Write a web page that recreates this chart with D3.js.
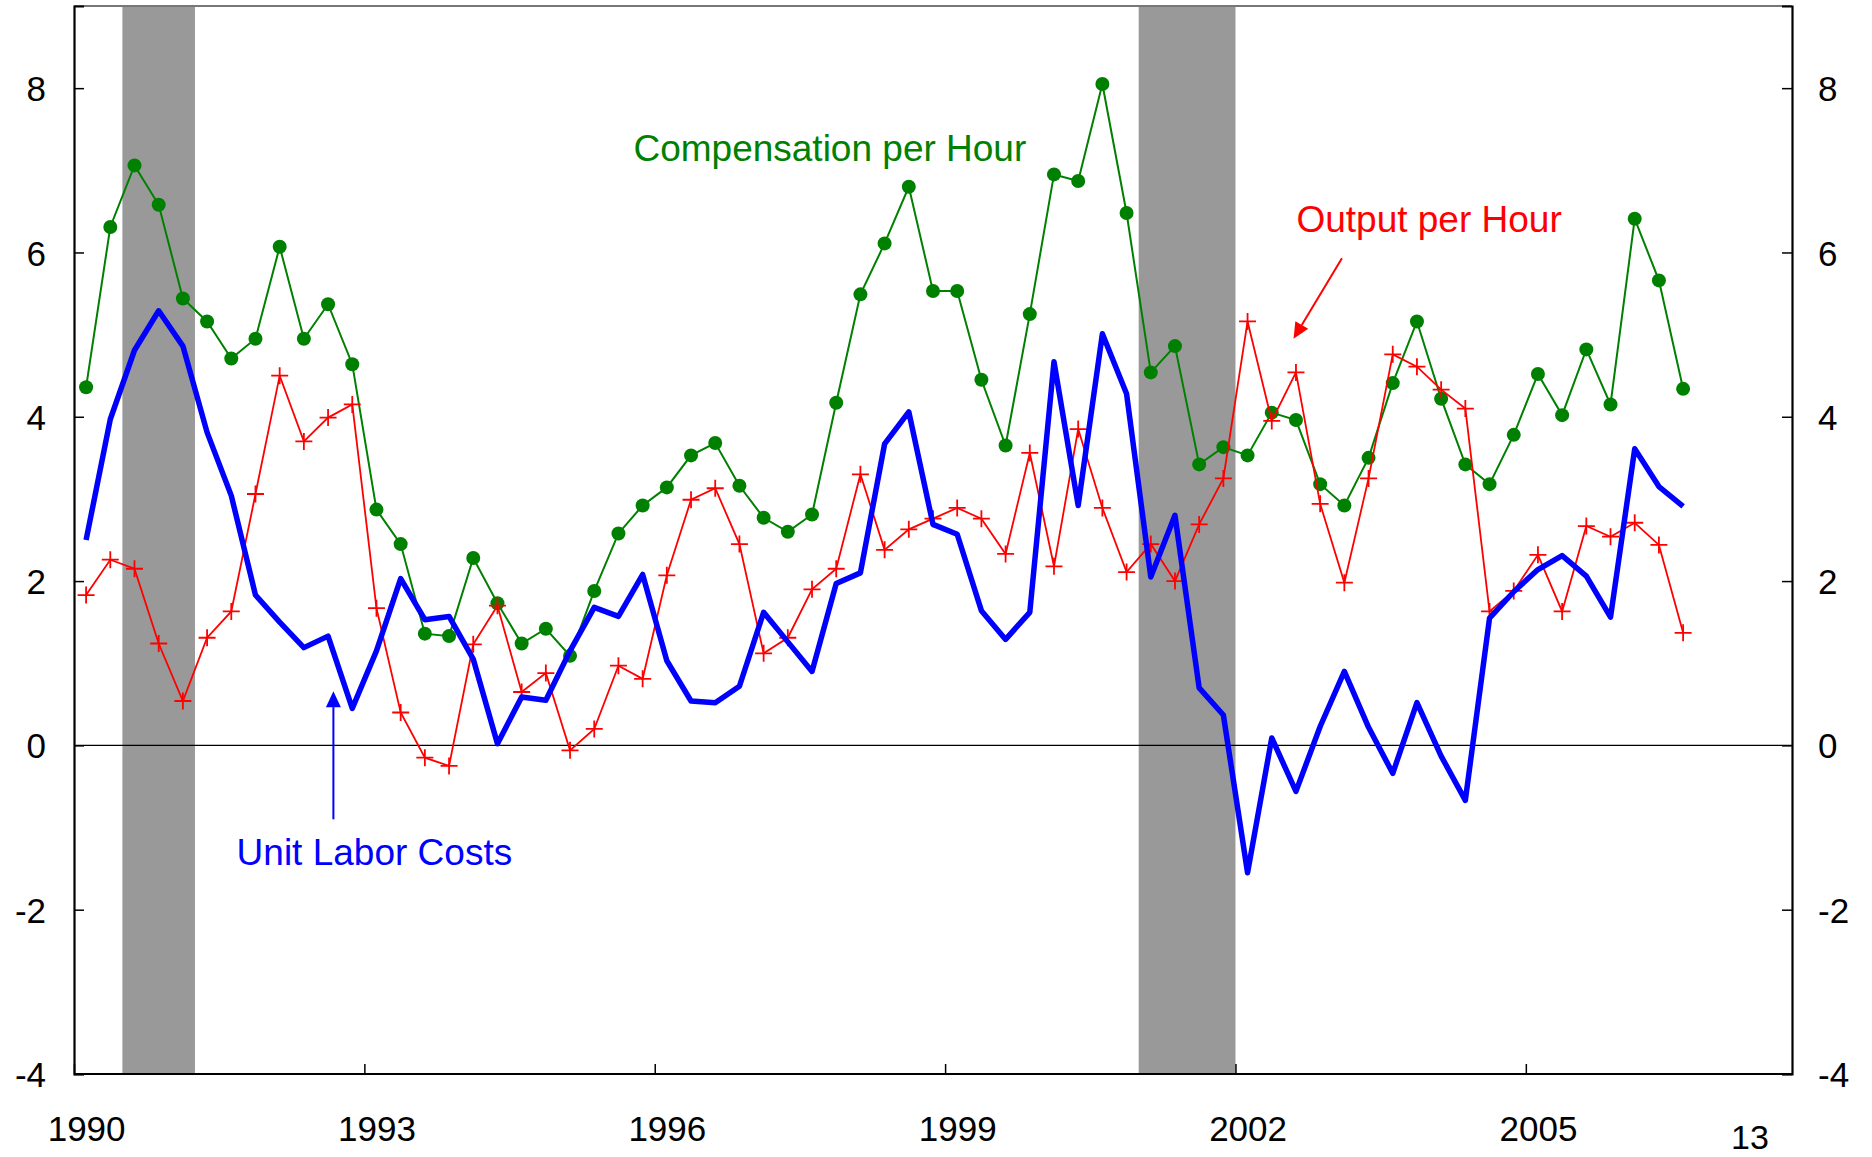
<!DOCTYPE html>
<html>
<head>
<meta charset="utf-8">
<script src="https://cdn.jsdelivr.net/npm/d3@7"></script>
<style>
  body { margin: 0; background: #fff; }
  svg { display: block; }
  text { font-family: Arial, "Liberation Sans", sans-serif; }
</style>
</head>
<body>
<svg id="svg" width="1872" height="1157"></svg>
<script>
// quarterly, 1990Q1 .. 2006Q3
var startYear = 1990;
var compensation = [4.36,6.31,7.06,6.58,5.44,5.16,4.71,4.95,6.07,4.95,
    5.37,4.64,2.87,2.45,1.36,1.33,2.28,1.73,1.24,1.42,
    1.09,1.88,2.58,2.92,3.14,3.53,3.68,3.16,2.77,2.60,
    2.81,4.17,5.49,6.11,6.80,5.53,5.53,4.45,3.65,5.25,
    6.95,6.87,8.05,6.48,4.54,4.86,3.42,3.63,3.53,4.05,
    3.96,3.18,2.92,3.50,4.41,5.16,4.22,3.42,3.18,3.78,
    4.52,4.02,4.82,4.15,6.41,5.66,4.34];
var output = [1.83,2.26,2.15,1.24,0.54,1.31,1.63,3.06,4.50,3.70,
    3.99,4.15,1.67,0.40,-0.15,-0.25,1.23,1.70,0.65,0.88,
    -0.06,0.20,0.97,0.81,2.07,2.99,3.13,2.45,1.12,1.31,
    1.90,2.15,3.30,2.38,2.63,2.76,2.89,2.76,2.33,3.56,
    2.18,3.85,2.89,2.11,2.45,2.00,2.69,3.25,5.16,3.95,
    4.54,2.94,1.98,3.25,4.76,4.61,4.33,4.10,1.63,1.88,
    2.32,1.63,2.67,2.54,2.71,2.44,1.37];
var unitLabor = [2.50,3.97,4.81,5.29,4.86,3.81,3.04,1.83,1.50,1.19,
    1.33,0.45,1.15,2.03,1.53,1.57,1.05,0.02,0.59,0.55,
    1.15,1.68,1.57,2.08,1.03,0.54,0.52,0.72,1.62,1.26,
    0.90,1.97,2.10,3.67,4.06,2.69,2.57,1.64,1.29,1.62,
    4.67,2.92,5.01,4.28,2.05,2.80,0.70,0.37,-1.55,0.09,
    -0.56,0.23,0.90,0.22,-0.34,0.52,-0.13,-0.67,1.55,1.87,
    2.14,2.31,2.06,1.56,3.61,3.15,2.91];
var recessions = [[1990.5, 1991.25], [2001.0, 2002.0]];
var xTicks = [1990, 1993, 1996, 1999, 2002, 2005];
var yTicks = [-4, -2, 0, 2, 4, 6, 8];

// quarter mid points
var quarters = compensation.map(function(d, i) { return startYear + i / 4 + 0.125; });

var svg = d3.select("#svg");
var padding = {top: 6, right: 80, bottom: 83, left: 74};
var W = 1872, H = 1157;

var xScale = d3.scaleLinear().domain([1990, 2007.75])
    .range([padding.left, W - padding.right]);
var yScale = d3.scaleLinear().domain([-4, 9])
    .range([H - padding.bottom, padding.top]);

var x0 = xScale.range()[0], x1 = xScale.range()[1];
var yTop = yScale.range()[1], yBot = yScale.range()[0];
var plain = function(d) { return String(d); };

// recession bands
svg.append("g").selectAll("rect").data(recessions).enter()
    .append("rect")
    .attr("x", function(d) { return xScale(d[0]); })
    .attr("width", function(d) { return xScale(d[1]) - xScale(d[0]); })
    .attr("y", yTop)
    .attr("height", yBot - yTop)
    .attr("fill", "#999999");

// zero line
svg.append("line")
    .attr("x1", x0).attr("x2", x1)
    .attr("y1", yScale(0)).attr("y2", yScale(0))
    .attr("stroke", "#000").attr("stroke-width", 1.3);

// frame top
svg.append("line")
    .attr("x1", x0).attr("x2", x1)
    .attr("y1", yTop).attr("y2", yTop)
    .attr("stroke", "#777").attr("stroke-width", 2);

// axes
var axisLeft = svg.append("g")
    .attr("transform", "translate(" + x0 + ",0)")
    .call(d3.axisLeft(yScale).tickValues(yTicks).tickSize(-10).tickPadding(28).tickFormat(plain));
var axisRight = svg.append("g")
    .attr("transform", "translate(" + x1 + ",0)")
    .call(d3.axisRight(yScale).tickValues(yTicks).tickSize(-10).tickPadding(26).tickFormat(plain));
var axisBottom = svg.append("g")
    .attr("transform", "translate(0," + yBot + ")")
    .call(d3.axisBottom(xScale).tickValues(xTicks).tickSize(-10).tickPadding(42).tickFormat(plain));

[axisLeft, axisRight, axisBottom].forEach(function(a) {
    a.select(".domain").attr("stroke", "#000").attr("stroke-width", 2.2);
    a.selectAll(".tick line").attr("stroke", "#000").attr("stroke-width", 1.5);
    a.selectAll("text").attr("font-size", 35).attr("fill", "#000")
        .attr("font-family", "Arial, 'Liberation Sans', sans-serif");
});
axisLeft.selectAll(".tick text").attr("x", -28).attr("dy", "0.36em");
axisRight.selectAll(".tick text").attr("x", 26).attr("dy", "0.36em");
// labels centred on first quarter of the year
axisBottom.selectAll(".tick text").attr("x", xScale(1990.125) - xScale(1990));
axisBottom.select(".domain").attr("d", "M" + x0 + ",0H" + x1);

// page number
svg.append("text").text("13")
    .attr("x", 1750).attr("y", 1149)
    .attr("text-anchor", "middle").attr("font-size", 34).attr("fill", "#000");

// compensation per hour
var line = d3.line()
    .x(function(d, i) { return xScale(quarters[i]); })
    .y(function(d) { return yScale(d); });

svg.append("path").datum(compensation)
    .attr("d", line).attr("fill", "none")
    .attr("stroke", "#008000").attr("stroke-width", 2);
svg.append("g").selectAll("circle").data(compensation).enter()
    .append("circle")
    .attr("cx", function(d, i) { return xScale(quarters[i]); })
    .attr("cy", function(d) { return yScale(d); })
    .attr("r", 7)
    .attr("fill", "#008000");

// output per hour
svg.append("path").datum(output)
    .attr("d", line).attr("fill", "none")
    .attr("stroke", "#ff0000").attr("stroke-width", 1.8);
svg.append("g").selectAll("path").data(output).enter()
    .append("path")
    .attr("d", function(d, i) {
        var cx = xScale(quarters[i]), cy = yScale(d), s = 8.5;
        return "M" + (cx - s) + "," + cy + "H" + (cx + s) + "M" + cx + "," + (cy - s) + "V" + (cy + s);
    })
    .attr("stroke", "#ff0000").attr("stroke-width", 1.8);

// unit labor costs
svg.append("path").datum(unitLabor)
    .attr("d", line).attr("fill", "none")
    .attr("stroke", "#0000ff").attr("stroke-width", 5.5)
    .attr("stroke-linejoin", "round");

// annotations
function arrow(from, to, color) {
    var ax = xScale(from[0]), ay = yScale(from[1]);
    var bx = xScale(to[0]), by = yScale(to[1]);
    var dx = bx - ax, dy = by - ay, len = Math.sqrt(dx * dx + dy * dy);
    var ux = dx / len, uy = dy / len, hl = 16, hw = 7.5;
    var baseX = bx - ux * hl, baseY = by - uy * hl;
    svg.append("line")
        .attr("x1", ax).attr("y1", ay).attr("x2", baseX).attr("y2", baseY)
        .attr("stroke", color).attr("stroke-width", 2);
    svg.append("path")
        .attr("d", "M" + bx + "," + by +
            "L" + (baseX - uy * hw) + "," + (baseY + ux * hw) +
            "L" + (baseX + uy * hw) + "," + (baseY - ux * hw) + "Z")
        .attr("fill", color);
}

svg.append("text").text("Compensation per Hour")
    .attr("x", xScale(1995.78)).attr("y", yScale(7.11))
    .attr("font-size", 37).attr("fill", "#008000");
svg.append("text").text("Output per Hour")
    .attr("x", xScale(2002.63)).attr("y", yScale(6.25))
    .attr("font-size", 37).attr("fill", "#ff0000");
svg.append("text").text("Unit Labor Costs")
    .attr("x", xScale(1991.68)).attr("y", yScale(-1.45))
    .attr("font-size", 37).attr("fill", "#0000ff");

arrow([1992.68, -0.9], [1992.68, 0.66], "#0000ff");
arrow([2003.10, 5.93], [2002.60, 4.95], "#ff0000");
</script>
</body>
</html>
